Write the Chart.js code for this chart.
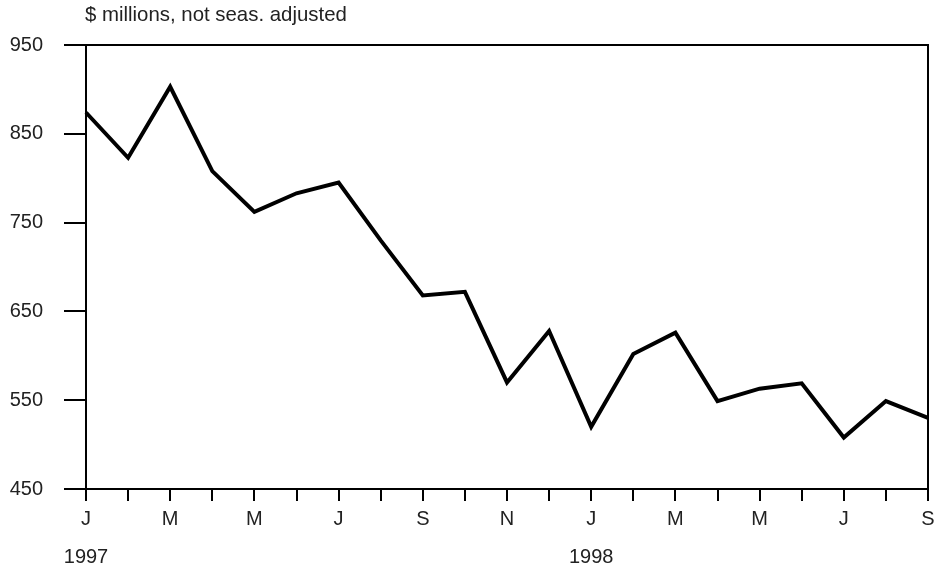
<!DOCTYPE html>
<html>
<head>
<meta charset="utf-8">
<script src="https://cdn.jsdelivr.net/npm/chart.js@4"></script>
<style>
  body { margin: 0; background: #fff; }
  #wrap { position: relative; width: 938px; height: 573px; }
</style>
</head>
<body>
<div id="wrap"><canvas id="chart"></canvas></div>
<script>
// monthly, Jan 1997 - Sep 1998
const months = ['J','F','M','A','M','J','J','A','S','O','N','D','J','F','M','A','M','J','J','A','S'];
const yearLabels = { 0: '1997', 12: '1998' };
const values = [874, 823, 903, 808, 762, 783, 795, 730, 668, 672, 570, 628, 520, 602, 626, 549, 563, 569, 508, 549, 530];
const yMin = 450, yMax = 950, yStep = 100;
const unitLabel = '$ millions, not seas. adjusted';

const FONT = "'Liberation Sans', Arial, Helvetica, sans-serif";
const TEXT = '#222';

const framePlugin = {
    id: 'frame',
    afterDraw(chart) {
        const a = chart.chartArea;
        const ctx = chart.ctx;
        ctx.save();
        ctx.strokeStyle = '#000';
        ctx.lineWidth = 2;
        ctx.beginPath();
        ctx.moveTo(a.left, a.top);
        ctx.lineTo(a.right, a.top);
        ctx.lineTo(a.right, a.bottom);
        ctx.stroke();
        ctx.fillStyle = TEXT;
        ctx.font = '20.4px ' + FONT;
        ctx.textAlign = 'left';
        ctx.textBaseline = 'middle';
        ctx.fillText(unitLabel, a.left - 1, 15);
        ctx.restore();
    }
};

new Chart(document.getElementById('chart'), {
    type: 'line',
    data: {
        labels: months,
        datasets: [{
            data: values,
            borderColor: '#000',
            borderWidth: 4,
            borderJoinStyle: 'miter',
            pointRadius: 0,
            tension: 0,
            fill: false
        }]
    },
    options: {
        responsive: true,
        maintainAspectRatio: false,
        animation: false,
        layout: { padding: { top: 45, right: 10, left: 0, bottom: 0 } },
        plugins: { legend: { display: false }, tooltip: { enabled: false } },
        scales: {
            x: {
                type: 'category',
                offset: false,
                grid: { drawOnChartArea: false, tickLength: 12, color: '#000', lineWidth: 2 },
                border: { color: '#000', width: 2 },
                ticks: {
                    autoSkip: false,
                    maxRotation: 0,
                    padding: 9,
                    color: TEXT,
                    font: { family: FONT, size: 20, lineHeight: 0.95 },
                    callback: (v, i) => {
                        if (i % 2) return '';
                        return yearLabels[i] ? [months[i], '', yearLabels[i]] : months[i];
                    }
                },
                afterFit: s => {
                    s.height = 84;
                    s.paddingLeft = 0;
                    s.paddingRight = 0;
                }
            },
            y: {
                min: yMin,
                max: yMax,
                grid: { drawOnChartArea: false, tickLength: 22, color: '#000', lineWidth: 2 },
                border: { color: '#000', width: 2 },
                ticks: {
                    stepSize: yStep,
                    padding: 21,
                    color: TEXT,
                    font: { family: FONT, size: 20 }
                },
                afterFit: s => { s.width = 86; }
            }
        }
    },
    plugins: [framePlugin]
});
</script>
</body>
</html>
